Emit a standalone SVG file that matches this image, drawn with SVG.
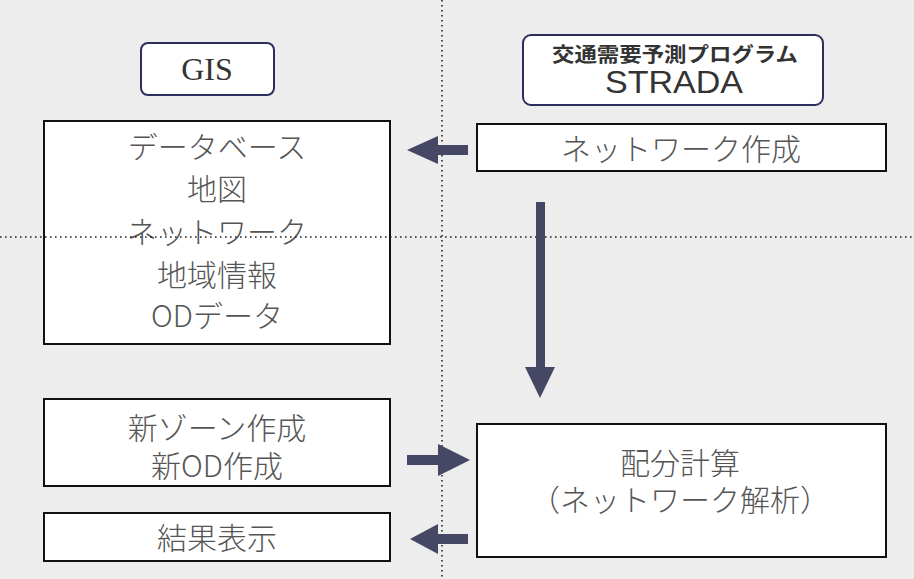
<svg xmlns="http://www.w3.org/2000/svg" width="914" height="579" viewBox="0 0 914 579">
<defs>
<style>
.bg{fill:#ededed}
.box{fill:#ffffff;stroke:#111;stroke-width:2}
.rbox{fill:#ffffff;stroke:#2e2e5c;stroke-width:2}
.jp{font-family:"Noto Sans CJK JP","Noto Sans",sans-serif;font-size:30px;fill:#555;text-anchor:middle;font-weight:300}
.dot{stroke:#222;stroke-width:1.6;stroke-dasharray:1.6 3.4;fill:none}
.arr{fill:#464665}
</style>
</defs>
<rect class="bg" x="0" y="0" width="914" height="579"/>
<g id="node-gis">
<rect class="rbox" x="141" y="43" width="133" height="52" rx="7"/>
<text x="207" y="80" font-family="Liberation Serif, serif" font-size="32" fill="#333" text-anchor="middle">GIS</text>
</g>
<g id="node-strada">
<rect class="rbox" x="523" y="35" width="300" height="70" rx="8"/>
<text x="675" y="62" font-family="Noto Sans CJK JP, sans-serif" font-size="20" font-weight="bold" fill="#333" text-anchor="middle" textLength="246" lengthAdjust="spacingAndGlyphs">交通需要予測プログラム</text>
<text x="674" y="93" font-family="Liberation Sans, sans-serif" font-size="31" fill="#333" text-anchor="middle" textLength="138" lengthAdjust="spacingAndGlyphs">STRADA</text>
</g>
<g id="node-database">
<rect class="box" x="44" y="121" width="346" height="223"/>
<text class="jp" x="217" y="158">データベース</text>
<text class="jp" x="217" y="200">地図</text>
<text class="jp" x="217" y="243">ネットワーク</text>
<text class="jp" x="217" y="286">地域情報</text>
<text class="jp" x="217" y="327">ODデータ</text>
</g>
<g id="node-network">
<rect class="box" x="477" y="124" width="409" height="47"/>
<text class="jp" x="681" y="160">ネットワーク作成</text>
</g>
<g id="node-newzone">
<rect class="box" x="44" y="399" width="346" height="87"/>
<text class="jp" x="217" y="439">新ゾーン作成</text>
<text class="jp" x="217" y="477">新OD作成</text>
</g>
<g id="node-result">
<rect class="box" x="44" y="513" width="346" height="48"/>
<text class="jp" x="217" y="549">結果表示</text>
</g>
<g id="node-assign">
<rect class="box" x="477" y="424" width="409" height="133"/>
<text class="jp" x="680" y="474">配分計算</text>
<text class="jp" x="680" y="511">（ネットワーク解析）</text>
</g>
<g id="guides">
<line class="dot" x1="442" y1="0" x2="442" y2="579"/>
<line class="dot" x1="0" y1="237" x2="914" y2="237"/>
</g>
<g id="connectors">
<polygon class="arr" points="468,145 438,145 438,136 407,150 438,164 438,155 468,155"/>
<polygon class="arr" points="545,202 536,202 536,367 525,367 540,398 555,367 545,367"/>
<polygon class="arr" points="407,455 438,455 438,444 470,460 438,476 438,465 407,465"/>
<polygon class="arr" points="468,534 438,534 438,524 410,539 438,554 438,544 468,544"/>
</g>
</svg>
